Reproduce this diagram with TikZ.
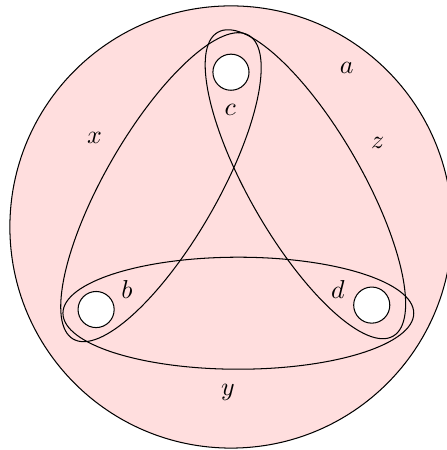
\documentclass[tikz,border=0pt]{standalone}
\usepackage{tikz}

\begin{document}
\begin{tikzpicture}[hole/.style={circle, draw, fill=white, minimum size=0.49cm, inner sep=0pt}]

\useasboundingbox (-3.134,-3.026) rectangle (2.931,3.080);

% Disc
\draw[fill=red!13] (0,0) circle (3);

% Holes
\node[hole] (hc) at (0,2.1) {};
\node[hole] (hb) at (-1.83,-1.12) {};
\node[hole] (hd) at (1.91,-1.06) {};

% Loops round pairs of holes
\draw[rotate around={60:(-0.95,0.54)}] (-0.95,0.54) ellipse (2.38 and 0.76);
\draw[rotate around={-60:(1.01,0.58)}] (1.01,0.58) ellipse (2.38 and 0.76);
\draw (0.10,-1.17) ellipse (2.38 and 0.76);

% Labels
\node (la) at (1.57,2.16) {$a$};
\node (lc) at (-0.01,1.59) {$c$};
\node (lb) at (-1.41,-0.85) {$b$};
\node (ld) at (1.45,-0.85) {$d$};
\node (lx) at (-1.85,1.21) {$x$};
\node (lz) at (1.99,1.14) {$z$};
\node (ly) at (-0.04,-2.25) {$y$};

\end{tikzpicture}
\end{document}
